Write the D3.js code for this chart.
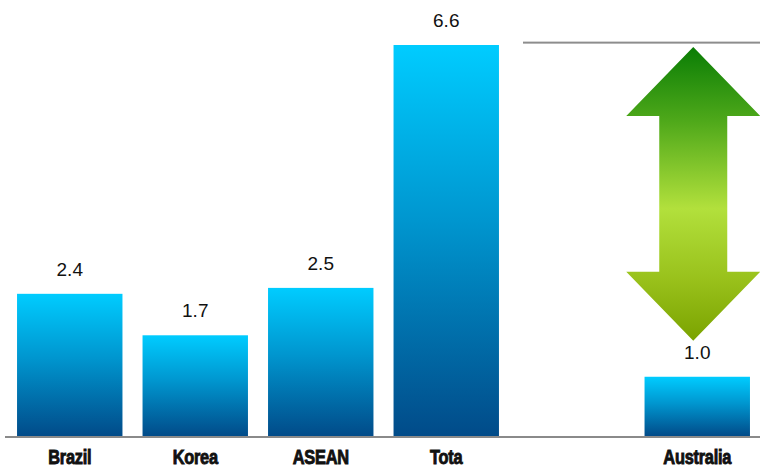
<!DOCTYPE html>
<html><head><meta charset="utf-8">
<script src="https://cdn.jsdelivr.net/npm/d3@7"></script>
<style>html,body{margin:0;padding:0;background:#fff;}svg{display:block;}</style>
</head><body>
<svg id="c" width="760" height="468"></svg>
<script>
const categories = ["Brazil", "Korea", "ASEAN", "Tota", "", "Australia"];
const values = [2.4, 1.7, 2.5, 6.6, null, 1.0];
const valueLabels = ["2.4", "1.7", "2.5", "6.6", "", "1.0"];

const W = 760, H = 468;
const svg = d3.select("#c");
const base = 436;
const x = d3.scaleBand().domain(categories).range([7, 760]).paddingInner(0.16).paddingOuter(0.08);
const y = d3.scaleLinear().domain([0, 6.6]).range([base, 45]);

const defs = svg.append("defs");
const bg = defs.append("linearGradient").attr("id", "barGrad").attr("x1", 0).attr("y1", 0).attr("x2", 0).attr("y2", 1);
bg.append("stop").attr("offset", "0%").attr("stop-color", "#00ccff");
bg.append("stop").attr("offset", "45%").attr("stop-color", "#0096cf");
bg.append("stop").attr("offset", "100%").attr("stop-color", "#014b89");

const ag = defs.append("linearGradient").attr("id", "arrGrad").attr("x1", 0).attr("y1", 0).attr("x2", 0).attr("y2", 1);
ag.append("stop").attr("offset", "0%").attr("stop-color", "#0a7d05");
ag.append("stop").attr("offset", "25%").attr("stop-color", "#4ea81a");
ag.append("stop").attr("offset", "55%").attr("stop-color", "#b2e03c");
ag.append("stop").attr("offset", "80%").attr("stop-color", "#98c01a");
ag.append("stop").attr("offset", "100%").attr("stop-color", "#7aa300");

const lg = defs.append("linearGradient").attr("id", "lineGrad").attr("x1", 0).attr("y1", 0).attr("x2", 0).attr("y2", 1);
lg.append("stop").attr("offset", "0%").attr("stop-color", "#aaaaaa");
lg.append("stop").attr("offset", "100%").attr("stop-color", "#707070");

const data = categories.map((c, i) => ({c, v: values[i], l: valueLabels[i]})).filter(d => d.v != null);

svg.selectAll("rect.bar").data(data).enter().append("rect")
  .attr("class", "bar")
  .attr("x", d => x(d.c)).attr("width", x.bandwidth())
  .attr("y", d => y(d.v)).attr("height", d => base - y(d.v))
  .attr("fill", "url(#barGrad)");

svg.selectAll("text.val").data(data).enter().append("text")
  .attr("x", d => x(d.c) + x.bandwidth() / 2)
  .attr("y", d => y(d.v) - 18)
  .attr("text-anchor", "middle")
  .attr("font-family", "Liberation Sans, Arial, sans-serif")
  .attr("font-size", 19).attr("fill", "#111")
  .text(d => d.l);

// axis baseline
svg.append("line").attr("x1", 5).attr("x2", 760).attr("y1", base + 1).attr("y2", base + 1)
  .attr("stroke", "#8a8a8a").attr("stroke-width", 2);

svg.selectAll("text.cat").data(categories.filter(c => c)).enter().append("text")
  .attr("transform", d => `translate(${x(d) + x.bandwidth() / 2},463.5) scale(0.84,1)`)
  .attr("text-anchor", "middle")
  .attr("font-family", "Liberation Sans, Arial, sans-serif")
  .attr("font-weight", "bold")
  .attr("font-size", 19.5).attr("letter-spacing", -0.3)
  .attr("fill", "#111")
  .attr("stroke", "#111").attr("stroke-width", 0.9)
  .text(d => d);

// reference line at Tota level
const topY = y(6.6);
svg.append("rect").attr("x", 523).attr("width", 237).attr("y", topY - 3.5).attr("height", 2)
  .attr("fill", "url(#lineGrad)");

// double arrow between Tota level and Australia level
const cx = x("Australia") + x.bandwidth() / 2 - 4;
const t = topY + 2, b = y(1.0) - 36;
const hw = 67, sw = 34, hh = 69;
const pts = [
  [cx, t], [cx + hw, t + hh], [cx + sw, t + hh], [cx + sw, b - hh], [cx + hw, b - hh],
  [cx, b], [cx - hw, b - hh], [cx - sw, b - hh], [cx - sw, t + hh], [cx - hw, t + hh]
];
svg.append("path").attr("d", d3.line()(pts) + "Z").attr("fill", "url(#arrGrad)");
</script>
</body></html>
